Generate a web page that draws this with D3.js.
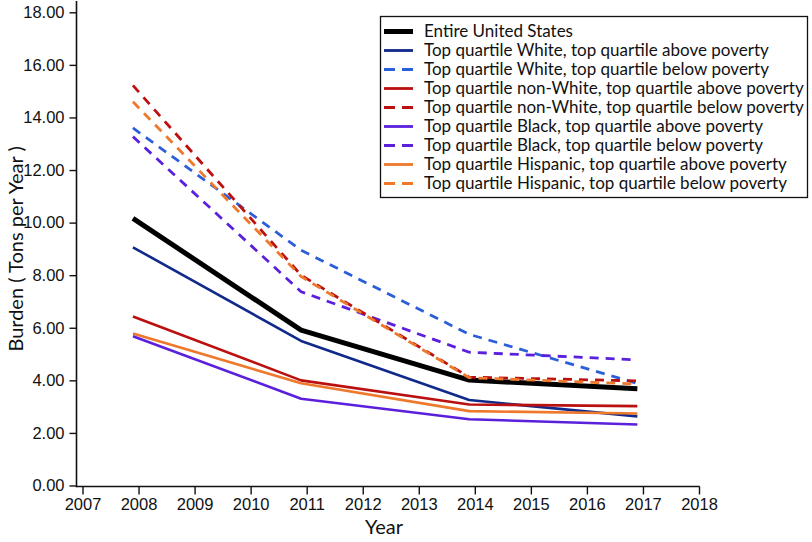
<!DOCTYPE html>
<html>
<head>
<meta charset="utf-8">
<script src="https://cdn.jsdelivr.net/npm/d3@7"></script>
<style>
  body { margin: 0; background: #fff; }
  svg { display: block; font-family: Lato, "Open Sans", sans-serif; }
  .tick text { font-size: 16.5px; fill: #111; }
</style>
</head>
<body>
<svg id="chart" width="812" height="542"></svg>
<script>
// sample years (points sit a touch left of the integer ticks in the source)
var years = [2007.9, 2010.9, 2013.9, 2016.9];
var yTicks = [0, 2, 4, 6, 8, 10, 12, 14, 16, 18];
var xTicks = [2007, 2008, 2009, 2010, 2011, 2012, 2013, 2014, 2015, 2016, 2017, 2018];

var seriesNames = [
  "Entire United States",
  "Top quartile White, top quartile above poverty",
  "Top quartile White, top quartile below poverty",
  "Top quartile non-White, top quartile above poverty",
  "Top quartile non-White, top quartile below poverty",
  "Top quartile Black, top quartile above poverty",
  "Top quartile Black, top quartile below poverty",
  "Top quartile Hispanic, top quartile above poverty",
  "Top quartile Hispanic, top quartile below poverty"
];

var entireUS       = [10.16, 5.91, 4.01, 3.68];
var whiteAbove     = [9.06, 5.5, 3.25, 2.63];
var whiteBelow     = [13.6, 8.95, 5.75, 3.88];
var nonWhiteAbove  = [6.43, 4.0, 3.08, 3.02];
var nonWhiteBelow  = [15.22, 8.0, 4.12, 3.98];
var blackAbove     = [5.68, 3.3, 2.52, 2.32];
var blackBelow     = [13.27, 7.37, 5.07, 4.78];
var hispanicAbove  = [5.78, 3.89, 2.83, 2.74];
var hispanicBelow  = [14.6, 7.95, 4.1, 3.86];

var seriesValues = [entireUS, whiteAbove, whiteBelow, nonWhiteAbove, nonWhiteBelow,
                    blackAbove, blackBelow, hispanicAbove, hispanicBelow];

var colors = ["#000000", "#10298a", "#2d5ed9", "#bb1010", "#bb1010",
              "#5a20dc", "#5a20dc", "#ee792c", "#ee792c"];
var dashed = [false, false, true, false, true, false, true, false, true];
var widths = [5, 2.6, 2.8, 2.6, 2.8, 2.6, 2.8, 2.6, 2.8];

var svg = d3.select("#chart");

var x = d3.scaleLinear().domain([2007, 2018]).range([82.5, 699]);
var y = d3.scaleLinear().domain([0, 18]).range([485.5, 12.3]);

// axes
var yAxis = d3.axisLeft(y)
    .tickValues(yTicks)
    .tickFormat(d3.format(".2f"))
    .tickSize(7)
    .tickPadding(5);

var xAxis = d3.axisBottom(x)
    .tickValues(xTicks)
    .tickFormat(d3.format("d"))
    .tickSize(8)
    .tickPadding(4);

var axisX0 = 76.5, axisY0 = y(0) + 1;

var gy = svg.append("g")
    .attr("transform", "translate(" + axisX0 + ",0)")
    .call(yAxis);
gy.select(".domain").remove();
gy.selectAll(".tick line").attr("stroke", "#111").attr("stroke-width", 1.4);

var gx = svg.append("g")
    .attr("transform", "translate(0," + axisY0 + ")")
    .call(xAxis);
gx.select(".domain").remove();
gx.selectAll(".tick line").attr("stroke", "#111").attr("stroke-width", 1.4);

svg.append("line")
    .attr("x1", axisX0).attr("x2", axisX0)
    .attr("y1", 1).attr("y2", axisY0 + 0.7)
    .attr("stroke", "#111").attr("stroke-width", 1.6);
svg.append("line")
    .attr("x1", axisX0).attr("x2", x(2018) + 0.7)
    .attr("y1", axisY0).attr("y2", axisY0)
    .attr("stroke", "#111").attr("stroke-width", 1.6);

// axis titles
svg.append("text")
    .attr("x", 384).attr("y", 534)
    .attr("text-anchor", "middle")
    .style("font-size", "20px")
    .attr("fill", "#111")
    .text("Year");

svg.append("text")
    .attr("transform", "translate(23," + y(9) + ") rotate(-90)")
    .attr("text-anchor", "middle")
    .style("font-size", "20px")
    .attr("fill", "#111")
    .text("Burden ( Tons per Year )");

// lines
var line = d3.line()
    .x(function(d, i) { return x(years[i]); })
    .y(function(d) { return y(d); });

var drawOrder = [1, 3, 7, 5, 0, 2, 6, 4, 8];
drawOrder.forEach(function(k) {
    svg.append("path")
        .datum(seriesValues[k])
        .attr("d", line)
        .attr("fill", "none")
        .attr("stroke", colors[k])
        .attr("stroke-width", widths[k])
        .attr("stroke-linejoin", "round")
        .attr("stroke-dasharray", dashed[k] ? "9,7" : null);
});

// legend
var legend = svg.append("g");
legend.append("rect")
    .attr("x", 380.5).attr("y", 16.5)
    .attr("width", 427).attr("height", 181)
    .attr("fill", "#fff")
    .attr("stroke", "#111")
    .attr("stroke-width", 1.3);

var rowY = d3.scalePoint().domain(seriesNames).range([31.5, 183.5]);

var rows = legend.selectAll(".row")
    .data(seriesNames)
    .enter().append("g")
    .attr("class", "row")
    .attr("transform", function(d) { return "translate(0," + rowY(d) + ")"; });

rows.append("line")
    .attr("x1", 384).attr("x2", 413)
    .attr("stroke", function(d, i) { return colors[i]; })
    .attr("stroke-width", function(d, i) { return i === 0 ? 5 : 2.8; })
    .attr("stroke-dasharray", function(d, i) { return dashed[i] ? "11,7" : null; });

rows.append("text")
    .attr("x", 424)
    .attr("dy", "0.35em")
    .style("font-size", "17px")
    .attr("fill", "#111")
    .text(function(d) { return d; });
</script>
</body>
</html>
